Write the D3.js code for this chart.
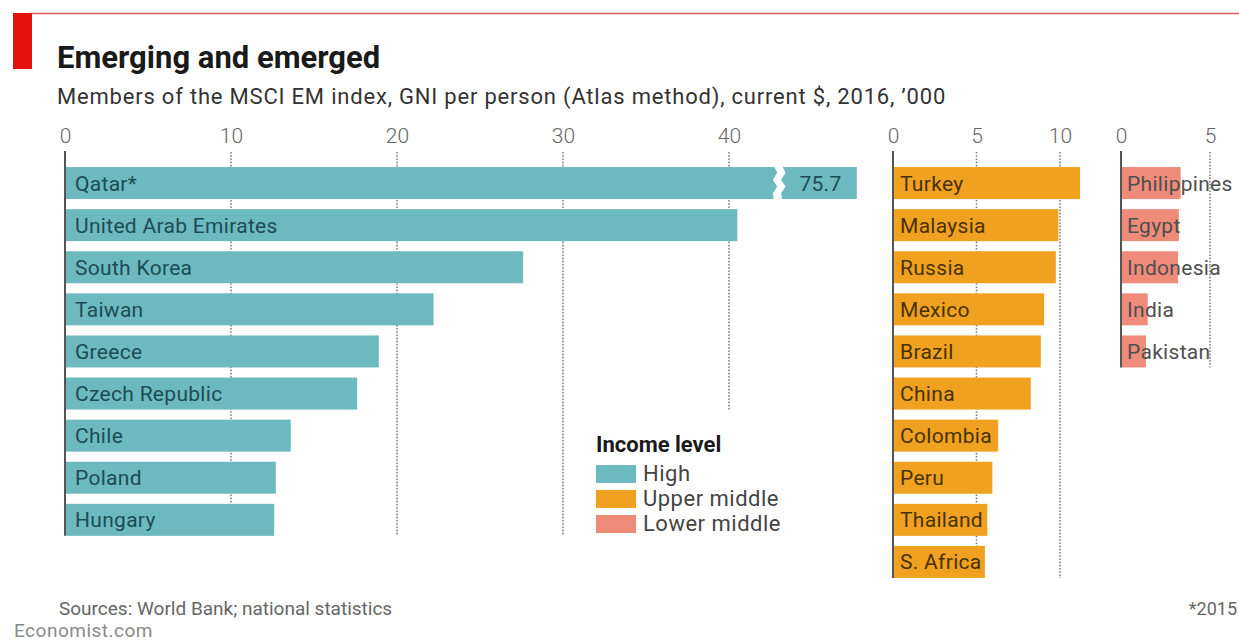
<!DOCTYPE html>
<html>
<head>
<meta charset="utf-8">
<script src="https://cdn.jsdelivr.net/npm/d3@7"></script>
<style>
body{margin:0;background:#fff;}
svg{display:block;font-family:Roboto,"Noto Sans",sans-serif;}
</style>
</head>
<body>
<svg id="chart" width="1239" height="643"></svg>
<script>
// data, GNI per person, $'000
const highNames = ["Qatar*", "United Arab Emirates", "South Korea", "Taiwan", "Greece", "Czech Republic", "Chile", "Poland", "Hungary"];
const highValues = [75.7, 40.5, 27.6, 22.2, 18.9, 17.6, 13.6, 12.7, 12.6];
const upperNames = ["Turkey", "Malaysia", "Russia", "Mexico", "Brazil", "China", "Colombia", "Peru", "Thailand", "S. Africa"];
const upperValues = [11.2, 9.9, 9.75, 9.05, 8.85, 8.25, 6.3, 5.95, 5.65, 5.5];
const lowerNames = ["Philippines", "Egypt", "Indonesia", "India", "Pakistan"];
const lowerValues = [3.35, 3.25, 3.2, 1.5, 1.4];
const highTicks = [0, 10, 20, 30, 40];
const upperTicks = [0, 5, 10];
const lowerTicks = [0, 5];
const legendLabels = ["High", "Upper middle", "Lower middle"];

// axis break used for bars beyond the left panel
const breakAt = 42.7, breakGap = 0.5, brokenEnd = 47.7;

const svg = d3.select("#chart");
const step = 42.1, top0 = 162;

var panels = [
  {names: highNames, values: highValues, ticks: highTicks, domain: [0, 40], range: [65, 729],
   color: "#6cb9bf", text: "#1d4c55", pad: 10, stopRow: {40: 5}},
  {names: upperNames, values: upperValues, ticks: upperTicks, domain: [0, 10], range: [893, 1060],
   color: "#efa11f", text: "#4a3100", pad: 7, stopRow: {}},
  {names: lowerNames, values: lowerValues, ticks: lowerTicks, domain: [0, 5], range: [1121, 1210],
   color: "#ee8b79", text: "#4f4f4f", pad: 6, stopRow: {}}
];

// header
svg.append("line").attr("x1", 30).attr("x2", 1239).attr("y1", 13.5).attr("y2", 13.5)
  .attr("stroke", "#d9585a").attr("stroke-width", 1.5);
svg.append("rect").attr("x", 13).attr("y", 13).attr("width", 19).attr("height", 56).attr("fill", "#e3120b");
svg.append("text").attr("x", 57).attr("y", 68).attr("font-size", 31).attr("font-weight", 700)
  .attr("fill", "#1a1a1a").text("Emerging and emerged");
svg.append("text").attr("x", 57).attr("y", 104).attr("font-size", 22).attr("letter-spacing", 0.8)
  .attr("fill", "#333")
  .text("Members of the MSCI EM index, GNI per person (Atlas method), current $, 2016, \u2019000");

panels.forEach(function(p){
  var x = d3.scaleLinear().domain(p.domain).range(p.range);
  var y = d3.scaleBand().domain(p.names)
    .range([top0, top0 + step * p.names.length])
    .paddingInner(0.24).paddingOuter(0.12);
  var bottom = y(p.names[p.names.length - 1]) + y.bandwidth();

  // tick labels
  var ax = svg.append("g").attr("transform", "translate(0,143)")
    .call(d3.axisTop(x).tickValues(p.ticks).tickSize(0).tickPadding(0).tickFormat(d3.format("d")));
  ax.select(".domain").remove();
  ax.selectAll("text").attr("font-size", 21).attr("font-weight", 300).attr("fill", "#666")
    .attr("font-family", "Roboto,sans-serif");

  // dotted gridlines
  svg.append("g").selectAll("line").data(p.ticks.filter(d => d > 0)).join("line")
    .attr("x1", d => x(d)).attr("x2", d => x(d))
    .attr("y1", 152)
    .attr("y2", d => p.stopRow[d] != null ? y(p.names[p.stopRow[d]]) + y.bandwidth() : bottom)
    .attr("stroke", "#808080").attr("stroke-width", 1.6).attr("stroke-dasharray", "1.6,1.6");

  var data = p.names.map((n, i) => ({name: n, value: p.values[i]}));

  svg.append("g").selectAll("rect").data(data).join("rect")
    .attr("x", x(0))
    .attr("y", d => y(d.name))
    .attr("height", y.bandwidth())
    .attr("width", d => x(d.value > breakAt ? brokenEnd : d.value) - x(0))
    .attr("fill", p.color);

  // broken bars: zigzag gap and value
  var broken = data.filter(d => d.value > breakAt);
  broken.forEach(function(d){
    var t = y(d.name), h = y.bandwidth();
    var a = x(breakAt), b = x(breakAt + breakGap);
    var zz = [0, 3.5, -1, 3.5, -1, 0];
    var left = zz.map((o, i) => [a + o, t - 1 + (h + 2) * i / (zz.length - 1)]);
    var right = zz.map((o, i) => [b + o, t - 1 + (h + 2) * i / (zz.length - 1)]).reverse();
    svg.append("path").attr("d", d3.line()(left.concat(right)) + "Z").attr("fill", "#fff");
    svg.append("text").attr("x", (b + x(brokenEnd)) / 2 + 1).attr("y", t + h / 2 + 7.5)
      .attr("text-anchor", "middle").attr("font-size", 21).attr("letter-spacing", 0.3)
      .attr("fill", p.text).text(d3.format(".1f")(d.value));
  });

  // zero axis
  svg.append("line").attr("x1", x(0)).attr("x2", x(0)).attr("y1", 151).attr("y2", bottom)
    .attr("stroke", "#555").attr("stroke-width", 2);

  // names
  svg.append("g").selectAll("text").data(data).join("text")
    .attr("x", x(0) + p.pad)
    .attr("y", d => y(d.name) + y.bandwidth() / 2 + 7.5)
    .attr("font-size", 21).attr("letter-spacing", 0.3)
    .attr("fill", p.text).text(d => d.name);
});

// legend
var lg = svg.append("g").attr("transform", "translate(596,452)");
lg.append("text").attr("x", 0).attr("y", 0).attr("font-size", 22).attr("font-weight", 700)
  .attr("fill", "#1a1a1a").text("Income level");
var li = lg.selectAll("g").data(legendLabels).join("g")
  .attr("transform", (d, i) => "translate(0," + (13 + i * 25) + ")");
li.append("rect").attr("width", 40).attr("height", 18).attr("fill", (d, i) => panels[i].color);
li.append("text").attr("x", 47).attr("y", 16).attr("font-size", 22).attr("letter-spacing", 0.5)
  .attr("fill", "#444").text(d => d);

// footer
svg.append("text").attr("x", 59).attr("y", 615).attr("font-size", 19)
  .attr("fill", "#666").text("Sources: World Bank; national statistics");
svg.append("text").attr("x", 1237).attr("y", 615).attr("text-anchor", "end").attr("font-size", 18)
  .attr("fill", "#666").text("*2015");
svg.append("text").attr("x", 14).attr("y", 637).attr("font-size", 19).attr("letter-spacing", 0.5)
  .attr("fill", "#8a8a8a").text("Economist.com");
</script>
</body>
</html>
